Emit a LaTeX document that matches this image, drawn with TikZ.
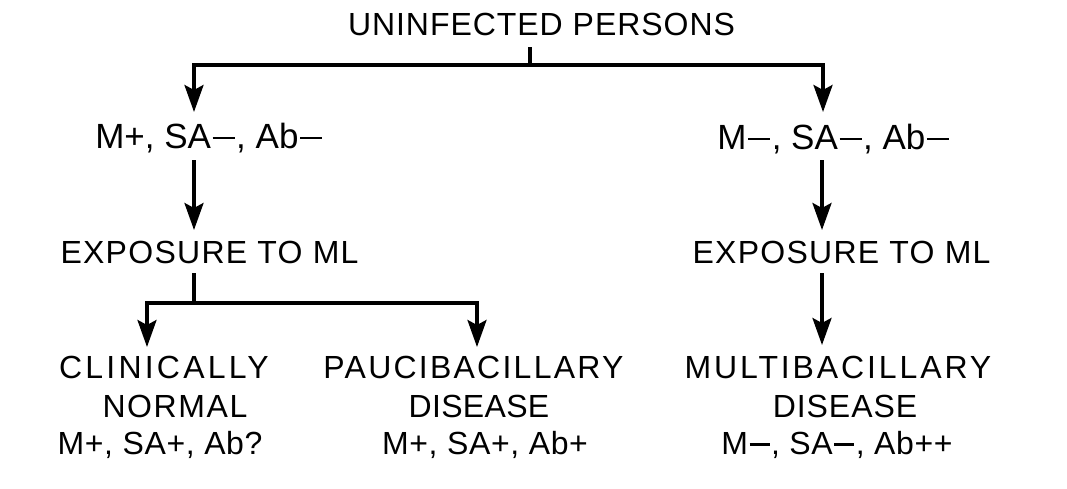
\documentclass[tikz,border=0pt]{standalone}
\usepackage{fontspec}
\setmainfont{Liberation Sans}
\usetikzlibrary{arrows.meta}
\newcommand\ls[1]{\addfontfeature{LetterSpace=#1}}
\newcommand\mn{\kern1.5pt\rule[8.5pt]{20pt}{2.4pt}\kern1.5pt}
\newcommand\mnb{\kern1.6pt\rule[9.3pt]{22pt}{2.5pt}\kern1.6pt}
\begin{document}
\begin{tikzpicture}[x=1pt,y=-1pt,
  lbl/.style={inner sep=0pt, anchor=base, font=\fontsize{32}{38}\selectfont},
  big/.style={lbl, font=\fontsize{35}{40}\selectfont},
  conn/.style={line width=3.4pt, line cap=butt, line join=miter},
  arr/.style={conn, -{Stealth[length=27pt,width=19pt,inset=5pt]}}]
\useasboundingbox (0,0) rectangle (1067,488);
% text
\node[lbl] (title) at (541.5,35) {\ls{3}UNINFECTED PERSONS};
\node[big] (ml) at (209.5,148.5) {M+, SA\mnb, Ab\mnb};
\node[big] (mr) at (834,149.5) {M\mnb, SA\mnb, Ab\mnb};
\node[lbl] (el) at (209.5,263) {\ls{4}EXPOSURE TO ML};
\node[lbl] (er) at (841.5,263) {\ls{4}EXPOSURE TO ML};
\node[lbl] (c1) at (164,378.5) {\ls{10}CLINICALLY};
\node[lbl] (c2) at (175,417) {\ls{5}NORMAL};
\node[lbl] (c3) at (160,454) {\ls{2}M+, SA+, Ab?};
\node[lbl] (p1) at (473.5,378.5) {\ls{7}PAUCIBACILLARY};
\node[lbl] (p2) at (479,417) {\ls{1}DISEASE};
\node[lbl] (p3) at (485,454) {\ls{2}M+, SA+, Ab+};
\node[lbl] (u1) at (838,378.5) {\ls{9}MULTIBACILLARY};
\node[lbl] (u2) at (845,417) {\ls{3}DISEASE};
\node[lbl] (u3) at (837,454) {\ls{2}M\mn, SA\mn, Ab++};
% junctions and tips
\coordinate (j0) at (530,47);
\coordinate (j1) at (530,65);
\coordinate (tl) at (194,112);
\coordinate (tr) at (823,112);
\coordinate (sl) at (194,160);
\coordinate (sr) at (822,160);
\coordinate (xl) at (194,230);
\coordinate (xr) at (822,230);
\coordinate (ql) at (194,273);
\coordinate (qj) at (194,303);
\coordinate (qr) at (822,273);
\coordinate (kl) at (147,347);
\coordinate (kp) at (477,347);
\coordinate (ku) at (822,345);
% connectors
\draw[conn] (j0) -- (j1);
\draw[arr] (j1) -| (tl);
\draw[arr] (j1) -| (tr);
\draw[arr] (sl) -- (xl);
\draw[arr] (sr) -- (xr);
\draw[conn] (ql) -- (qj);
\draw[arr] (qj) -| (kl);
\draw[arr] (qj) -| (kp);
\draw[arr] (qr) -- (ku);
\end{tikzpicture}
\end{document}
